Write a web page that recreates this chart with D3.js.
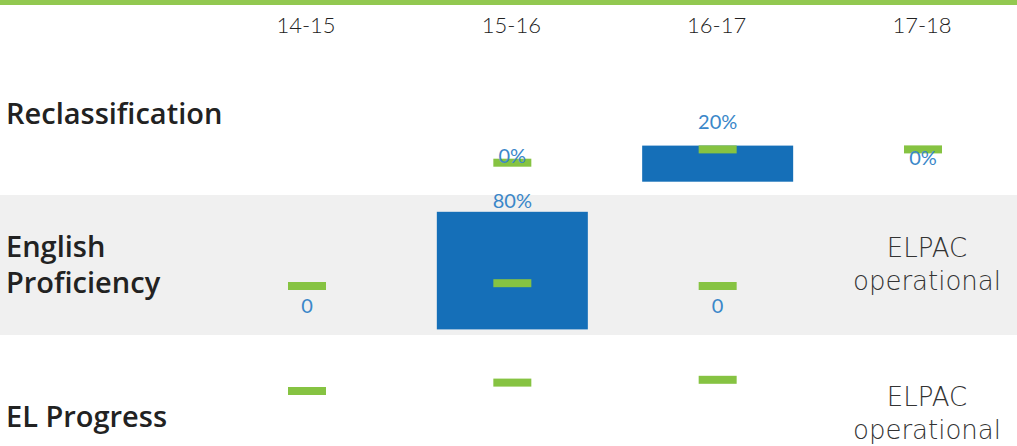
<!DOCTYPE html>
<html>
<head>
<meta charset="utf-8">
<script src="https://cdn.jsdelivr.net/npm/d3@7"></script>
<style>
  html, body { margin: 0; padding: 0; background: #fff; overflow: hidden; }
  svg { display: block; }
</style>
</head>
<body>
<svg id="chart"></svg>
<script>
// columns and rows
const years = ['14-15', '15-16', '16-17', '17-18'];
const rowNames = [['Reclassification'], ['English', 'Proficiency'], ['EL Progress']];

// bars: [low, high] in row units (0-100), null = no bar
const barLow  = [[null, null, 7, null], [null, 4, null, null], [null, null, null, null]];
const barHigh = [[null, null, 26, null], [null, 88, null, null], [null, null, null, null]];

// green target dashes, in row units
const marks = [[null, 17, 24, 24], [35, 37, 35, null], [60, 66, 68, null]];

// value labels and where they sit, in row units
const valueText = [['', '0%', '20%', '0%'], ['0', '80%', '0', ''], ['', '', '', '']];
const valueAt   = [[null, 17, 35, 16], [16, 91, 16, null], [null, null, null, null]];

// notes in place of data
const notes = [['', '', '', ''], ['', '', '', 'ELPAC|operational'], ['', '', '', 'ELPAC|operational']];

var svgWidth = 1017;
var svgHeight = 446;
var bands = [[5, 195], [195, 335], [335, 475]];   // pixel band of each row
var barWidth = 151;
var markW = 38, markH = 8;

var svg = d3.select('#chart')
			.attr('width', svgWidth)
			.attr('height', svgHeight);

var x = d3.scalePoint()
			.domain(years)
			.range([307, 923]);

var yScales = bands.map(b => d3.scaleLinear().domain([0, 100]).range([b[1], b[0]]));

// row backgrounds
svg.selectAll('rect.band')
	.data(bands)
	.enter()
	.append('rect')
	.attr('class', 'band')
	.attr('x', 0)
	.attr('y', d => d[0])
	.attr('width', svgWidth)
	.attr('height', d => d[1] - d[0])
	.attr('fill', (d, i) => i === 1 ? '#f0f0f0' : '#ffffff');

// green rule at the top
svg.append('rect')
	.attr('x', 0).attr('y', 0)
	.attr('width', svgWidth).attr('height', 5)
	.attr('fill', '#92c850');

// column headers
svg.selectAll('text.year')
	.data(years)
	.enter()
	.append('text')
	.attr('class', 'year')
	.attr('x', d => x(d) - 1)
	.attr('y', 33)
	.attr('text-anchor', 'middle')
	.attr('font-family', 'Lato, sans-serif')
	.attr('font-weight', 300)
	.attr('font-size', 22)
	.attr('fill', '#222')
	.text(d => d);

// row labels
var rowBase = [[124], [257, 293], [427]];
rowNames.forEach((lines, r) => {
	svg.selectAll(null)
		.data(lines)
		.enter()
		.append('text')
		.attr('x', 6)
		.attr('y', (d, i) => rowBase[r][i])
		.attr('font-family', '"Open Sans", sans-serif')
		.attr('font-weight', 600)
		.attr('font-size', 29)
		.attr('fill', '#222')
		.text(d => d);
});

rowNames.forEach((n, r) => {
	var y = yScales[r];
	var g = svg.append('g').attr('class', 'row');

	// bars
	g.selectAll('rect.bar')
		.data(years.map((yr, i) => ({ yr: yr, lo: barLow[r][i], hi: barHigh[r][i] })).filter(d => d.lo !== null))
		.enter()
		.append('rect')
		.attr('class', 'bar')
		.attr('x', d => x(d.yr) - barWidth / 2)
		.attr('y', d => y(d.hi))
		.attr('width', barWidth)
		.attr('height', d => y(d.lo) - y(d.hi))
		.attr('fill', '#156fb8');

	// target dashes
	g.selectAll('rect.mark')
		.data(years.map((yr, i) => ({ yr: yr, v: marks[r][i] })).filter(d => d.v !== null))
		.enter()
		.append('rect')
		.attr('class', 'mark')
		.attr('x', d => x(d.yr) - markW / 2)
		.attr('y', d => y(d.v) - markH / 2)
		.attr('width', markW)
		.attr('height', markH)
		.attr('fill', '#86c342');

	// value labels
	g.selectAll('text.val')
		.data(years.map((yr, i) => ({ yr: yr, t: valueText[r][i], v: valueAt[r][i] })).filter(d => d.t !== ''))
		.enter()
		.append('text')
		.attr('class', 'val')
		.attr('x', d => x(d.yr))
		.attr('y', d => y(d.v))
		.attr('text-anchor', 'middle')
		.attr('font-family', 'Lato, sans-serif')
		.attr('font-size', 20)
		.attr('fill', '#3a87c9')
		.text(d => d.t);

	// notes
	years.forEach((yr, i) => {
		if (!notes[r][i]) return;
		var top = r === 1 ? 257 : 406;
		g.selectAll(null)
			.data(notes[r][i].split('|'))
			.enter()
			.append('text')
			.attr('x', x(yr) + 4)
			.attr('y', (d, k) => top + k * 33)
			.attr('text-anchor', 'middle')
			.attr('font-family', '"DejaVu Sans", sans-serif')
			.attr('font-weight', 200)
			.attr('font-size', 26)
			.attr('fill', '#333')
			.text(d => d);
	});
});
</script>
</body>
</html>
